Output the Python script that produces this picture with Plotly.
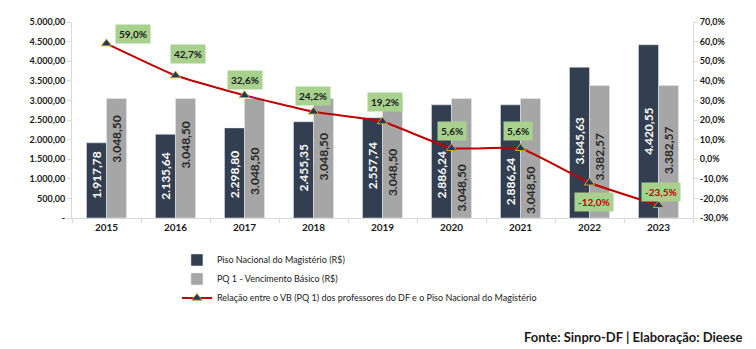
import plotly.graph_objects as go

years = ["2015", "2016", "2017", "2018", "2019", "2020", "2021", "2022", "2023"]
piso = [1917.78, 2135.64, 2298.80, 2455.35, 2557.74, 2886.24, 2886.24, 3845.63, 4420.55]
pq1 = [3048.50, 3048.50, 3048.50, 3048.50, 3048.50, 3048.50, 3048.50, 3382.57, 3382.57]
relacao = [59.0, 42.7, 32.6, 24.2, 19.2, 5.6, 5.6, -12.0, -23.5]

# style: percentage-label offsets in pixels
lab_dx = [26, 12, 0, -1, 2, 0, -3, 4, 2]
lab_dy = [10, 22, 15, 16, 20, 17, 17, -19, 13]
# style: where the value label sits along each bar (fraction of bar height)
piso_lab_frac = [0.57, 0.50, 0.48, 0.52, 0.52, 0.38, 0.32, 0.51, 0.50]
pq1_lab_frac = [0.66, 0.61, 0.39, 0.51, 0.38, 0.25, 0.23, 0.46, 0.51]

FONT = "Lato"
DARK = "#333F50"
GRAY = "#A6A6A6"
RED = "#C00000"
AX = "#D9D9D9"
TXT = "#1a1a1a"

pos = list(range(len(years)))


def br(v, dec=2):
    s = f"{v:,.{dec}f}"
    return s.replace(",", "X").replace(".", ",").replace("X", ".")


fig = go.Figure()
fig.add_trace(go.Bar(
    x=pos, y=piso, name="Piso Nacional do Magistério (R$)",
    marker_color=DARK, legendgroup="a",
))
fig.add_trace(go.Bar(
    x=pos, y=pq1, name="PQ 1 - Vencimento Básico (R$)",
    marker_color=GRAY, legendgroup="b",
))
fig.add_trace(go.Scatter(
    x=pos, y=relacao, yaxis="y2", mode="lines+markers",
    name="Relação entre o VB (PQ 1) dos professores do DF e o Piso Nacional do Magistério",
    line=dict(color=RED, width=2, shape="spline", smoothing=0.35),
    marker=dict(symbol="triangle-up", size=9, color="#1F3864",
                line=dict(color="#C9A227", width=1)),
    legendgroup="c",
))

# value labels inside bars
for i in pos:
    fig.add_annotation(
        x=i, y=piso[i] * piso_lab_frac[i], xref="x", yref="y", xshift=-10,
        text=br(piso[i]), textangle=-90, showarrow=False,
        font=dict(family=FONT, size=12, color="white", weight="bold"),
    )
    fig.add_annotation(
        x=i, y=pq1[i] * pq1_lab_frac[i], xref="x", yref="y", xshift=10,
        text=br(pq1[i]), textangle=-90, showarrow=False,
        font=dict(family=FONT, size=12, color="#262626", weight="bold"),
    )

for i, v in zip(pos, relacao):
    fig.add_annotation(
        x=i, y=v, xref="x", yref="y2", text=f"{br(v, 1)}%", showarrow=False,
        xshift=lab_dx[i], yshift=lab_dy[i], bgcolor="#A9D18E",
        font=dict(family=FONT, size=10, color=RED if v < 0 else TXT, weight="bold"),
        borderpad=3,
    )

lt = list(range(0, 5001, 500))
rt = list(range(-30, 71, 10))

fig.add_annotation(
    xref="paper", yref="paper", x=1.082, y=-0.66, xanchor="right", yanchor="bottom",
    text="Fonte: Sinpro-DF | Elaboração: Dieese", showarrow=False,
    font=dict(family=FONT, size=13, color=TXT, weight="bold"),
)

fig.update_layout(
    width=756, height=349,
    margin=dict(l=72, r=63, t=22, b=131),
    paper_bgcolor="white", plot_bgcolor="white",
    barmode="group", bargap=0.42, bargroupgap=0,
    font=dict(family=FONT, color="#262626"),
    showlegend=True,
    legend=dict(x=0.169, y=-0.14, xanchor="left", yanchor="top",
                font=dict(family=FONT, size=9, color=TXT),
                tracegroupgap=4, traceorder="normal"),
    xaxis=dict(range=[-0.5, len(years) - 0.5], tickvals=pos, ticktext=years,
               showline=True, linecolor=AX, ticks="", showgrid=False, zeroline=False,
               minor=dict(ticks="outside", tick0=-0.5, dtick=1, ticklen=4,
                          tickcolor=AX, showgrid=False),
               tickfont=dict(family=FONT, size=10, color=TXT, weight="bold")),
    yaxis=dict(range=[0, 5000], tickvals=lt,
               ticktext=[br(v) if v else "-" for v in lt],
               showgrid=False, zeroline=False, showline=True, linecolor=AX,
               ticks="outside", tickcolor=AX, ticklen=4,
               tickfont=dict(family=FONT, size=9, color=TXT, weight="bold")),
    yaxis2=dict(range=[-30, 70], tickvals=rt,
                ticktext=[br(v, 1) + "%" for v in rt],
                overlaying="y", side="right",
                showgrid=False, zeroline=False, showline=True, linecolor=AX,
                ticks="outside", tickcolor=AX, ticklen=4,
                tickfont=dict(family=FONT, size=9, color=TXT, weight="bold")),
)

fig.write_html("out.html")
